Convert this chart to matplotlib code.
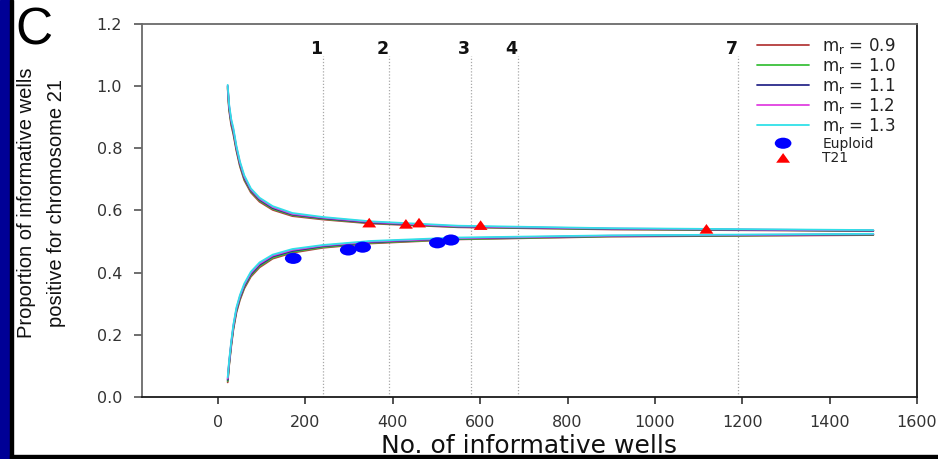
import matplotlib
matplotlib.use("Agg")
import matplotlib.pyplot as plt
from matplotlib.path import Path
from matplotlib.transforms import Affine2D
from matplotlib.patches import Rectangle

# ---------------- data ----------------
curve_x = [22, 25, 30, 35, 42, 50, 60, 75, 95, 125, 170, 240, 350, 550, 900, 1500]

upper_09 = [0.992, 0.925, 0.875, 0.845, 0.792, 0.742, 0.697, 0.658, 0.628, 0.602, 0.582, 0.571, 0.558, 0.546, 0.539, 0.534]
upper_10 = [0.996, 0.930, 0.880, 0.850, 0.796, 0.746, 0.701, 0.662, 0.632, 0.605, 0.585, 0.573, 0.560, 0.547, 0.540, 0.535]
upper_11 = [1.000, 0.935, 0.885, 0.855, 0.800, 0.750, 0.705, 0.665, 0.635, 0.608, 0.587, 0.575, 0.561, 0.548, 0.541, 0.535]
upper_12 = [1.002, 0.940, 0.890, 0.860, 0.804, 0.754, 0.709, 0.668, 0.638, 0.611, 0.589, 0.577, 0.563, 0.549, 0.542, 0.536]
upper_13 = [1.004, 0.945, 0.895, 0.865, 0.808, 0.758, 0.713, 0.671, 0.641, 0.614, 0.592, 0.579, 0.565, 0.551, 0.543, 0.537]

lower_09 = [0.047, 0.097, 0.162, 0.217, 0.272, 0.312, 0.349, 0.387, 0.417, 0.445, 0.464, 0.480, 0.494, 0.507, 0.516, 0.521]
lower_10 = [0.051, 0.101, 0.166, 0.221, 0.276, 0.316, 0.353, 0.391, 0.421, 0.448, 0.467, 0.482, 0.496, 0.508, 0.517, 0.522]
lower_11 = [0.055, 0.105, 0.170, 0.225, 0.280, 0.320, 0.357, 0.395, 0.425, 0.452, 0.470, 0.485, 0.498, 0.510, 0.518, 0.523]
lower_12 = [0.059, 0.109, 0.174, 0.229, 0.284, 0.324, 0.361, 0.399, 0.429, 0.455, 0.473, 0.487, 0.500, 0.511, 0.519, 0.524]
lower_13 = [0.063, 0.113, 0.178, 0.233, 0.288, 0.328, 0.365, 0.403, 0.433, 0.458, 0.476, 0.489, 0.502, 0.513, 0.520, 0.525]

mr_labels = ["0.9", "1.0", "1.1", "1.2", "1.3"]
upper_curves = [upper_09, upper_10, upper_11, upper_12, upper_13]
lower_curves = [lower_09, lower_10, lower_11, lower_12, lower_13]
curve_colors = ["#b43c3c", "#3cc03c", "#2a2a8a", "#e040e0", "#30e0e8"]

euploid_x = [172, 298, 331, 502, 533]
euploid_y = [0.446, 0.473, 0.482, 0.496, 0.505]
t21_x = [346, 430, 460, 601, 1118]
t21_y = [0.561, 0.557, 0.561, 0.553, 0.541]

marker_lines_x = [241, 392, 578, 686, 1191]
marker_lines_labels = ["1", "2", "3", "4", "7"]

x_ticks = [0, 200, 400, 600, 800, 1000, 1200, 1400, 1600]
y_ticks = [0.0, 0.2, 0.4, 0.6, 0.8, 1.0, 1.2]

# ---------------- figure ----------------
fig = plt.figure(figsize=(9.38, 4.59), dpi=100)
ax = fig.add_axes([0.151, 0.1351, 0.8266, 0.8126])

ellipse = Affine2D().scale(1.5, 1.0).transform_path(Path.unit_circle())
tri = Path([(0, 0.5), (-0.72, -0.5), (0.72, -0.5), (0, 0.5)],
           [Path.MOVETO, Path.LINETO, Path.LINETO, Path.CLOSEPOLY])

line_handles = []
for lab, up, lo, c in zip(mr_labels, upper_curves, lower_curves, curve_colors):
    h, = ax.plot(curve_x, up, color=c, lw=1.3, solid_capstyle="round")
    ax.plot(curve_x, lo, color=c, lw=1.3, solid_capstyle="round")
    line_handles.append(h)

ax.vlines(marker_lines_x, 0, 1.097, colors="#a8a8a8", linestyles=(0, (1, 1.5)), lw=0.9, zorder=1)
for xv, lab in zip(marker_lines_x, marker_lines_labels):
    ax.text(xv - 2, 1.12, lab, ha="right", va="center", fontsize=12.5,
            fontweight="bold", family="DejaVu Sans", color="#111111")

eu = ax.scatter(euploid_x, euploid_y, marker=ellipse, s=12**2, color="#0000ff",
                edgecolors="none", zorder=5)
t2 = ax.scatter(t21_x, t21_y, marker=tri, s=10**2, color="#ff0000",
                edgecolors="none", zorder=5)

ax.set_xlim(-175, 1600)
ax.set_ylim(0, 1.2)
ax.set_xticks(x_ticks)
ax.set_yticks(y_ticks)
ax.set_xticklabels([str(v) for v in x_ticks])
ax.set_yticklabels([f"{v:.1f}" for v in y_ticks])

for side in ["top", "left"]:
    ax.spines[side].set_color("#6a6a6a")
for side in ["bottom", "right"]:
    ax.spines[side].set_color("#1a1a1a")
for s in ax.spines.values():
    s.set_linewidth(1.3)

ax.tick_params(axis="x", direction="out", length=5, width=1.2, pad=8,
               labelsize=11.5, labelcolor="#333333", color="#333333")
ax.tick_params(axis="y", direction="out", length=6, width=1.2, pad=8,
               labelsize=11.5, labelcolor="#333333", color="#555555")
for lbl in ax.get_xticklabels() + ax.get_yticklabels():
    lbl.set_family("DejaVu Sans")

ax.set_xlabel("No. of informative wells", fontsize=18, family="DejaVu Sans",
              color="#111111")
ax.xaxis.set_label_coords(0.5, -0.1)
ax.set_ylabel("Proportion of informative wells\npositive for chromosome 21",
              fontsize=14.5, family="Liberation Sans", color="#111111", linespacing=1.75)
ax.yaxis.set_label_coords(-0.097, 0.52)

leg_labels = [r"m$_{\mathregular{r}}$ = " + v for v in mr_labels] + ["Euploid", "T21"]
leg = ax.legend(line_handles + [eu, t2], leg_labels, loc="upper left",
                bbox_to_anchor=(0.794, 0.968), frameon=False,
                handlelength=3.1, handletextpad=0.8, labelspacing=0.0,
                borderpad=0, borderaxespad=0, scatterpoints=1,
                prop={"family": "DejaVu Sans", "size": 12})
for t in leg.get_texts()[5:]:
    t.set_fontsize(10)
for t in leg.get_texts():
    t.set_color("#222222")

# panel letter
fig.text(0.016, 0.985, "C", fontsize=37, family="Liberation Sans", color="black",
         ha="left", va="top")

# slide border decorations
fig.add_artist(Rectangle((0, 0), 10 / 938, 1, transform=fig.transFigure,
                         color="#000096", zorder=10))
fig.add_artist(Rectangle((10 / 938, 0), 3 / 938, 1, transform=fig.transFigure,
                         color="black", zorder=10))
fig.add_artist(Rectangle((10 / 938, 0), 1, 4 / 459, transform=fig.transFigure,
                         color="black", zorder=10))

fig.savefig("out.png", dpi=100)
